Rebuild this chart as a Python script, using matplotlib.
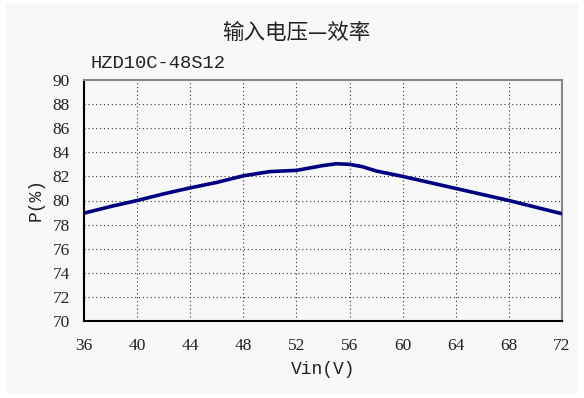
import matplotlib
matplotlib.use('Agg')
import matplotlib.pyplot as plt
from matplotlib.patches import Rectangle

vin = [36, 38, 40, 42, 44, 46, 48, 50, 52, 54, 55, 56, 57, 58, 60, 62, 64, 66, 68, 70, 72]
eff = [78.95, 79.5, 80.0, 80.55, 81.05, 81.5, 82.05, 82.4, 82.5, 82.9, 83.05, 83.0, 82.8, 82.45, 82.0, 81.5, 81.0, 80.5, 80.0, 79.45, 78.9]
x_ticks = [36, 40, 44, 48, 52, 56, 60, 64, 68, 72]
y_ticks = list(range(70, 91, 2))

W, H = 584, 398
fig = plt.figure(figsize=(W / 100, H / 100), dpi=100, facecolor='white')
fig.patches.append(Rectangle((6 / W, 4 / H), 572 / W, 390 / H, transform=fig.transFigure,
                             facecolor='#f8f8f8', edgecolor='none', zorder=-10))

ax = fig.add_axes([84 / W, 1 - 321 / H, (562 - 84) / W, (321 - 80) / H])
ax.set_zorder(2)
ax.set_facecolor('#f8f8f8')
ax.plot(vin, eff, color='#000080', lw=2.6, solid_capstyle='butt', zorder=3)
ax.set_xlim(36, 72)
ax.set_ylim(70, 90)
ax.set_xticks(x_ticks)
ax.set_yticks(y_ticks)
ax.grid(True, linestyle=(0, (1, 2.5)), color='#333333', lw=0.8)
ax.tick_params(length=0, labelsize=12.5, colors='#222222')
ax.tick_params(axis='x', pad=12)
ax.tick_params(axis='y', pad=10)
for lab in ax.get_xticklabels() + ax.get_yticklabels():
    lab.set_family('Liberation Serif')

ax.spines['left'].set_linewidth(1.5)
ax.spines['bottom'].set_linewidth(1.5)
ax.spines['top'].set_color('#888888')
ax.spines['right'].set_color('#888888')
ax.spines['top'].set_linewidth(1.5)
ax.spines['right'].set_linewidth(1.5)

fig.text(296 / W, 1 - 33 / H, '输入电压—效率', ha='center', va='center', fontsize=15.5,
         family=['Noto Sans CJK SC', 'DejaVu Sans'], color='#222222')
fig.text(90 / W, 1 - 64 / H, 'HZD10C-48S12', ha='left', va='center', fontsize=13.5,
         family='Liberation Mono', color='#222222')
fig.text(323 / W, 1 - 370 / H, 'Vin(V)', ha='center', va='center', fontsize=13,
         family='Liberation Mono', color='#222222')
fig.text(36 / W, 1 - 200 / H, 'P(%)', ha='center', va='center', fontsize=13, rotation=90,
         family='Liberation Mono', color='#222222')

fig.savefig('out.png', dpi=100, facecolor='white')
